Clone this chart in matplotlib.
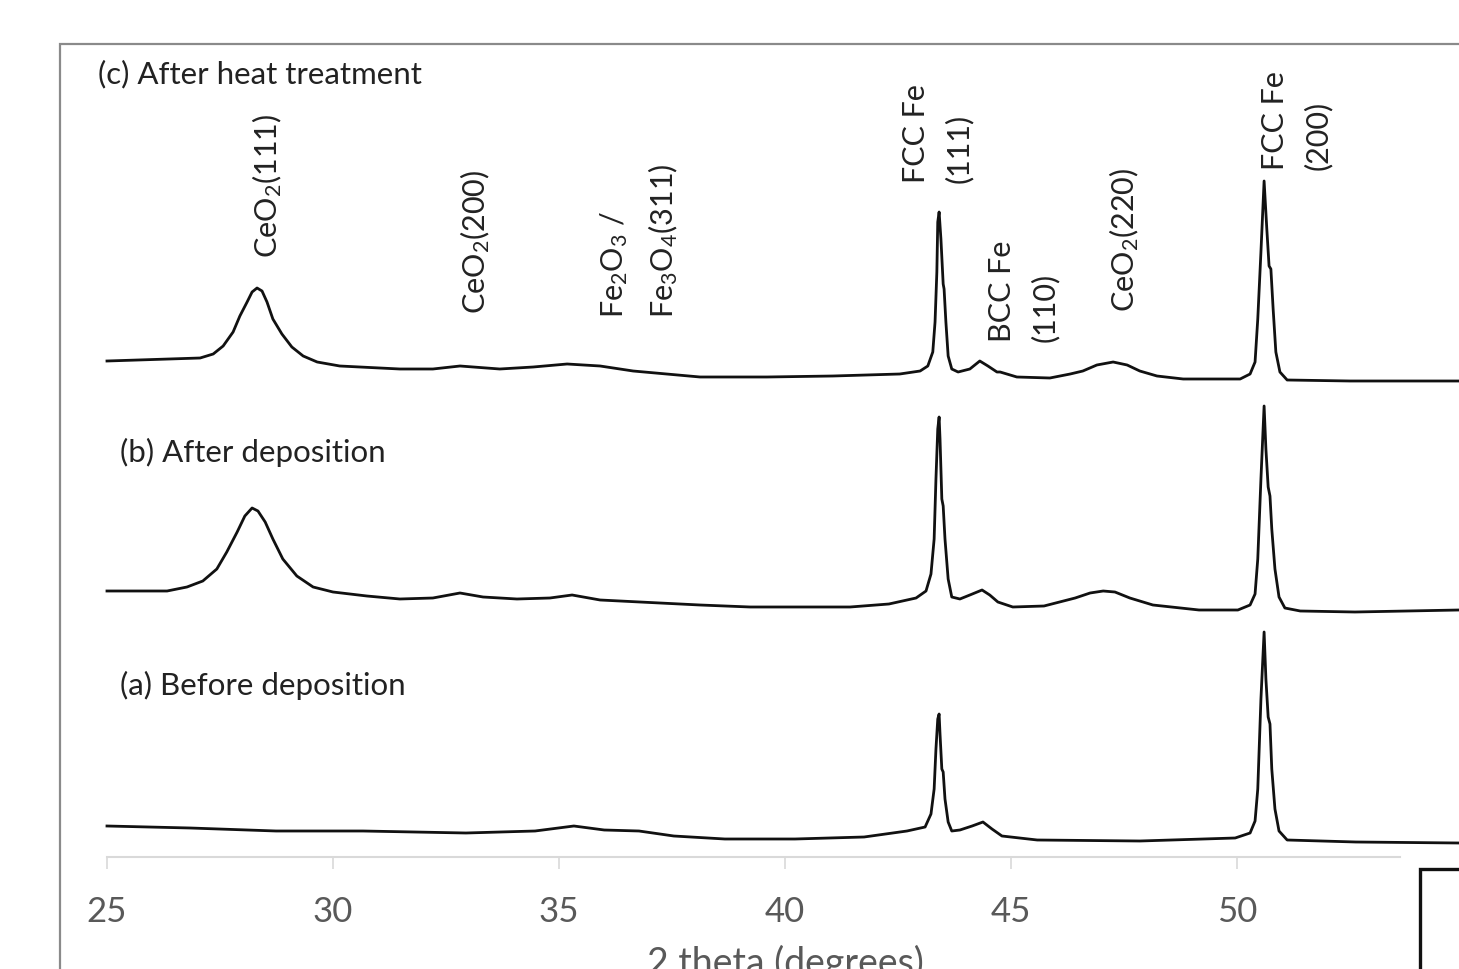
import matplotlib
matplotlib.use("Agg")
import matplotlib.pyplot as plt
from matplotlib.patches import Rectangle

plt.rcParams['font.family'] = ['Lato', 'DejaVu Sans']
plt.rcParams['mathtext.fontset'] = 'custom'
plt.rcParams['mathtext.rm'] = 'Lato'
plt.rcParams['mathtext.it'] = 'Lato:italic'
plt.rcParams['mathtext.bf'] = 'Lato:bold'

# 2 theta (deg) and intensity (a.u., already stacked)
theta_c = [25.00, 27.06, 27.35, 27.57, 27.79, 27.94, 28.10, 28.21, 28.32, 28.43, 28.54, 28.67,
           28.87, 29.09, 29.34, 29.65, 30.15, 31.48, 32.21, 32.81, 33.69, 34.43, 35.18, 35.91,
           36.64, 37.38, 38.12, 39.60, 41.06, 42.54, 42.99, 43.16, 43.27, 43.32, 43.36, 43.38,
           43.41, 43.45, 43.50, 43.52, 43.56, 43.61, 43.69, 43.83, 44.09, 44.31, 44.49, 44.69,
           44.76, 45.13, 45.86, 46.31, 46.59, 46.90, 47.26, 47.57, 47.85, 48.23, 48.81, 50.07,
           50.29, 50.40, 50.46, 50.53, 50.60, 50.66, 50.71, 50.75, 50.80, 50.86, 50.95, 51.11,
           52.50, 54.91]
int_c = [496, 499, 503, 511, 525, 541, 555, 565, 569, 566, 555, 538,
         523, 510, 501, 495, 491, 488, 488, 491, 488, 490, 493, 491,
         486, 483, 480, 480, 481, 483, 486, 491, 505, 535, 585, 635,
         645, 618, 573, 568, 535, 501, 488, 485, 488, 496, 491, 485,
         485, 480, 479, 483, 486, 492, 495, 492, 486, 481, 478, 478,
         483, 495, 538, 605, 676, 628, 591, 588, 548, 505, 485, 477,
         476, 476]

theta_b = [25.00, 26.33, 26.77, 27.12, 27.43, 27.65, 27.88, 28.05, 28.21, 28.34, 28.50, 28.67,
           28.89, 29.20, 29.56, 30.00, 30.75, 31.48, 32.21, 32.81, 33.32, 34.07, 34.80, 35.29,
           35.91, 36.79, 38.12, 39.23, 41.44, 42.30, 42.90, 43.12, 43.23, 43.30, 43.34, 43.38,
           43.41, 43.43, 43.47, 43.50, 43.54, 43.61, 43.69, 43.87, 44.09, 44.36, 44.53, 44.71,
           45.04, 45.73, 46.42, 46.75, 47.04, 47.30, 47.63, 48.14, 49.16, 50.02, 50.29, 50.40,
           50.46, 50.53, 50.60, 50.64, 50.69, 50.73, 50.77, 50.84, 50.93, 51.06, 51.40, 52.61,
           54.91]
int_b = [266, 266, 270, 276, 288, 305, 325, 341, 349, 346, 335, 318,
         298, 281, 270, 265, 261, 258, 259, 264, 260, 258, 259, 262,
         257, 255, 252, 250, 250, 253, 259, 266, 283, 318, 378, 428,
         440, 418, 358, 351, 318, 278, 260, 258, 262, 267, 262, 255,
         250, 251, 259, 264, 266, 265, 259, 252, 247, 247, 252, 263,
         298, 378, 451, 408, 370, 361, 328, 288, 260, 249, 246, 245,
         247]

theta_a = [25.00, 26.84, 28.74, 30.66, 32.94, 34.47, 35.33, 36.00, 36.77, 37.54, 38.67, 40.22,
           41.75, 42.70, 43.10, 43.23, 43.30, 43.34, 43.38, 43.41, 43.43, 43.47, 43.50, 43.54,
           43.61, 43.69, 43.87, 44.14, 44.38, 44.58, 44.80, 45.58, 47.85, 49.96, 50.29, 50.40,
           50.46, 50.53, 50.60, 50.64, 50.69, 50.73, 50.77, 50.84, 50.93, 51.11, 52.63, 54.91]
int_a = [31, 29, 26, 26, 24, 26, 31, 27, 26, 21, 18, 18,
         20, 26, 30, 43, 68, 108, 138, 143, 123, 88, 85, 58,
         35, 26, 27, 31, 35, 28, 21, 17, 16, 19, 24, 36,
         68, 158, 225, 178, 140, 133, 88, 48, 26, 17, 15, 14]

xticks = [25, 30, 35, 40, 45, 50]

fig = plt.figure(figsize=(14.59, 9.70), dpi=100)
ax = fig.add_axes([0, 0, 1, 1])
ax.set_xlim(22.633, 54.912)
ax.set_ylim(-112, 858)

for th, val in [(theta_c, int_c), (theta_b, int_b), (theta_a, int_a)]:
    ax.plot(th, val, color='#111111', lw=2.0, solid_joinstyle='round')

# axis styling
for s in ['top', 'right', 'left']:
    ax.spines[s].set_visible(False)
ax.spines['bottom'].set_position(('data', 0))
ax.spines['bottom'].set_bounds(25, 53.6)
ax.spines['bottom'].set_color('#d9d9d9')
ax.spines['bottom'].set_linewidth(1.5)
ax.set_yticks([])
ax.set_xticks(xticks)
ax.tick_params(axis='x', direction='out', length=8.5, width=1.2, color='#d9d9d9',
               labelsize=25, labelcolor='#595959', pad=19)
ax.patch.set_visible(False)

ax.text(40.0, -87, '2 theta (degrees)', ha='center', va='top', fontsize=27, color='#595959')

# sample labels
lab = dict(fontsize=22.5, color='#222222', va='center', ha='left')
ax.text(24.80, 784, '(c) After heat treatment', **lab)
ax.text(25.29, 406, '(b) After deposition', **lab)
ax.text(25.29, 173, '(a) Before deposition', **lab)

# peak labels
pk = dict(fontsize=22, color='#222222', rotation=90, ha='center', va='bottom',
          multialignment='left', linespacing=1.6)
ax.text(28.54, 600, 'CeO$_2$(111)', **pk)
ax.text(33.14, 544, 'CeO$_2$(200)', **pk)
ax.text(36.78, 540, 'Fe$_2$O$_3$ /\nFe$_3$O$_4$(311)', **pk)
ax.text(43.38, 675, 'FCC Fe\n(111)', **pk)
ax.text(45.28, 516, 'BCC Fe\n(110)', **pk)
ax.text(47.50, 546, 'CeO$_2$(220)', **pk)
ax.text(51.31, 688, 'FCC Fe\n(200)', **pk)

# chart border and the box in the corner
W, H = 1459.0, 970.0
fig.add_artist(Rectangle((60 / W, -0.1), 2.0, 1.1 - 45 / H, transform=fig.transFigure,
                         fill=False, edgecolor='#8a8a8a', lw=1.6))
fig.add_artist(Rectangle((1420 / W, -0.1), 1.0, 0.1 + (H - 870) / H, transform=fig.transFigure,
                         fill=False, edgecolor='#111111', lw=2.4))

fig.savefig('out.png', dpi=100)
